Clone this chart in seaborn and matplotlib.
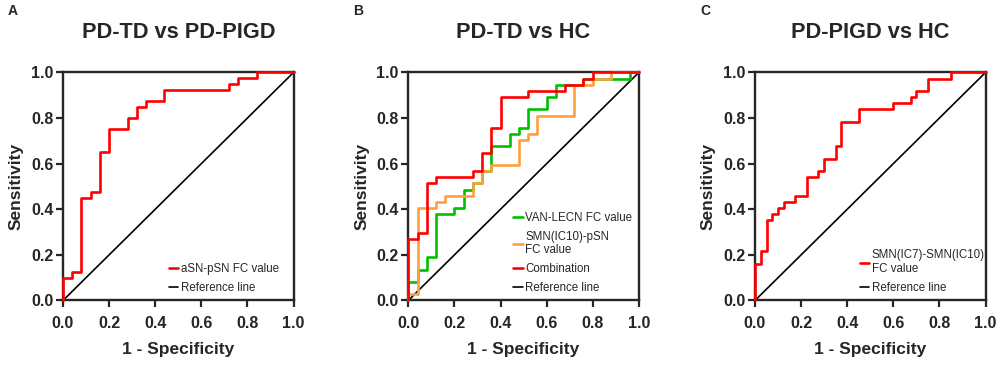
import seaborn as sns
import matplotlib.pyplot as plt

sns.set_style('ticks')
plt.rcParams['font.family'] = ['Liberation Sans', 'DejaVu Sans']

# ROC step points (1 - specificity at end of each step, sensitivity level)
a_fpr = [0, 0.04, 0.08, 0.12, 0.16, 0.20, 0.28, 0.32, 0.36, 0.44, 0.72, 0.76, 0.84, 1.0]
a_tpr = [0, 0.10, 0.125, 0.45, 0.475, 0.65, 0.75, 0.80, 0.85, 0.875, 0.925, 0.95, 0.975, 1.0]

b_green_fpr = [0, 0.04, 0.08, 0.12, 0.20, 0.24, 0.28, 0.32, 0.36, 0.44, 0.48, 0.52, 0.60, 0.64, 0.76, 0.96, 1.0]
b_green_tpr = [0, 0.081, 0.135, 0.189, 0.378, 0.405, 0.486, 0.514, 0.568, 0.676, 0.730, 0.757, 0.838, 0.892, 0.946, 0.973, 1.0]

b_orange_fpr = [0, 0.04, 0.12, 0.16, 0.28, 0.32, 0.36, 0.48, 0.52, 0.56, 0.72, 0.80, 0.88, 1.0]
b_orange_tpr = [0, 0.027, 0.405, 0.432, 0.459, 0.514, 0.568, 0.595, 0.703, 0.730, 0.811, 0.946, 0.973, 1.0]

b_red_fpr = [0, 0.04, 0.08, 0.12, 0.28, 0.32, 0.36, 0.40, 0.52, 0.68, 0.76, 0.80, 1.0]
b_red_tpr = [0, 0.270, 0.297, 0.514, 0.541, 0.568, 0.649, 0.757, 0.892, 0.919, 0.946, 0.973, 1.0]

c_fpr = [0, 0.025, 0.05, 0.075, 0.10, 0.125, 0.175, 0.225, 0.275, 0.30, 0.35, 0.375, 0.45, 0.60, 0.675, 0.70, 0.75, 0.85, 1.0]
c_tpr = [0, 0.162, 0.216, 0.351, 0.378, 0.405, 0.432, 0.459, 0.541, 0.568, 0.622, 0.676, 0.784, 0.838, 0.865, 0.892, 0.919, 0.973, 1.0]

titles = ['PD-TD vs PD-PIGD', 'PD-TD vs HC', 'PD-PIGD vs HC']
letters = ['A', 'B', 'C']
ticks = [0.0, 0.2, 0.4, 0.6, 0.8, 1.0]

fig = plt.figure(figsize=(10, 3.66), dpi=100)
lefts = [0.063, 0.4083, 0.755]
axes = [fig.add_axes([l, 0.179, 0.2305, 0.623]) for l in lefts]
leg_x = [0.965, 1.0, 1.025]


def roc(ax, x, y, color, label, lw=1.9):
    sns.lineplot(x=x, y=y, ax=ax, color=color, lw=lw, label=label, zorder=3,
                 drawstyle='steps-pre', estimator=None, sort=False, clip_on=False)


roc(axes[0], a_fpr, a_tpr, '#ff0000', 'aSN-pSN FC value')
roc(axes[1], b_green_fpr, b_green_tpr, '#00c000', 'VAN-LECN FC value')
roc(axes[1], b_orange_fpr, b_orange_tpr, '#ffa040', 'SMN(IC10)-pSN\nFC value')
roc(axes[1], b_red_fpr, b_red_tpr, '#ff0000', 'Combination')
roc(axes[2], c_fpr, c_tpr, '#ff0000', 'SMN(IC7)-SMN(IC10)\nFC value')

for i, ax in enumerate(axes):
    sns.lineplot(x=[0, 1], y=[0, 1], ax=ax, color='black', lw=1.2,
                 label='Reference line', clip_on=False, zorder=2)
    ax.set_xlim(0, 1)
    ax.set_ylim(0, 1)
    ax.set_xticks(ticks)
    ax.set_yticks(ticks)
    ax.set_xticklabels([f'{t:.1f}' for t in ticks], fontweight='bold', fontsize=11.5)
    ax.set_yticklabels([f'{t:.1f}' for t in ticks], fontweight='bold', fontsize=11.5)
    ax.tick_params(axis='x', width=1.6, length=5, pad=6)
    ax.tick_params(axis='y', width=1.6, length=5, pad=2)
    for s in ax.spines.values():
        s.set_linewidth(1.7)
    ax.set_xlabel('1 - Specificity', fontweight='bold', fontsize=12.5, labelpad=8)
    ax.set_ylabel('Sensitivity', fontweight='bold', fontsize=12.5, labelpad=5)
    ax.set_title(titles[i], fontweight='bold', fontsize=15.7, pad=25)
    ax.legend(loc='lower right', bbox_to_anchor=(leg_x[i], 0.0), frameon=False,
              fontsize=8.3, handlelength=0.8, handletextpad=0.25,
              labelspacing=0.6, borderaxespad=0.15)
    fig.text(lefts[i] - 0.055, 0.96, letters[i], fontweight='bold', fontsize=10)

fig.savefig('out.png', dpi=100)
